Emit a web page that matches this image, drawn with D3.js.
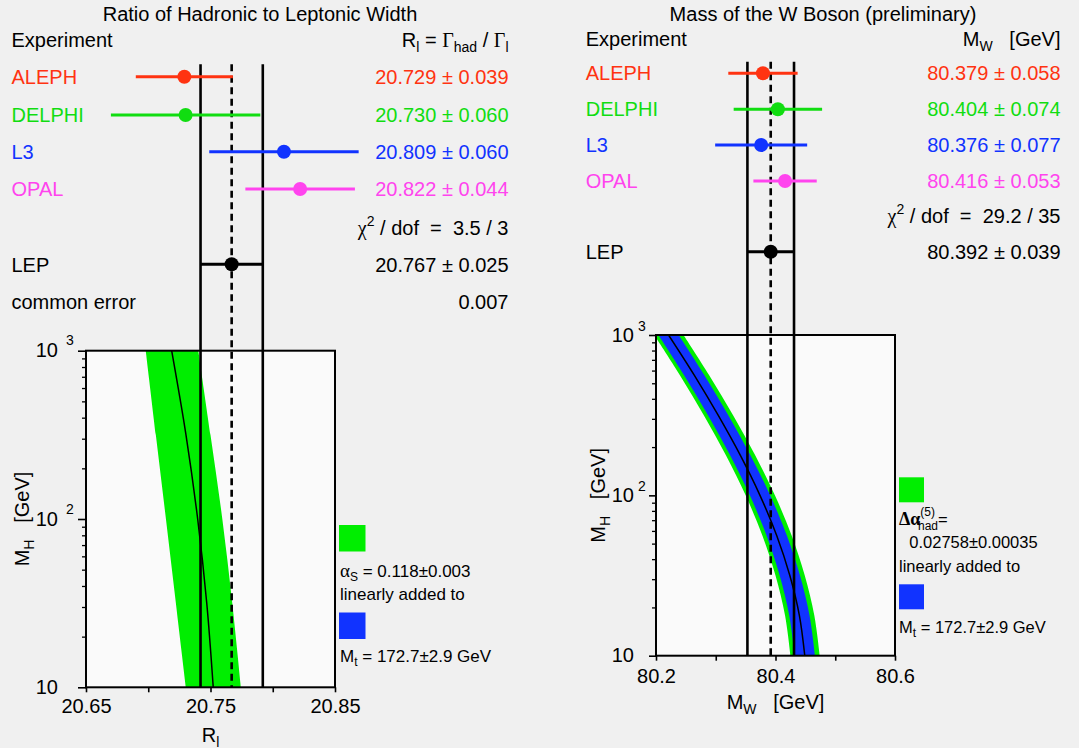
<!DOCTYPE html>
<html><head><meta charset="utf-8">
<script src="https://cdn.jsdelivr.net/npm/d3@7"></script>
<style>
html,body{margin:0;padding:0;background:#f0f0f0;}
svg{display:block;font-family:"Liberation Sans",Arial,Helvetica,sans-serif;}
text{white-space:pre;}
</style></head><body>
<svg id="chart" width="1079" height="748"></svg>
<script>
// ---------------- data ----------------
const experiments = ["ALEPH", "DELPHI", "L3", "OPAL"];
const expColors = ["#ff3311", "#11dd11", "#1133ff", "#ff44ee"];

const rlValues = [20.729, 20.730, 20.809, 20.822];
const rlErrors = [0.039, 0.060, 0.060, 0.044];
const rlLEP = [20.767];
const rlLEPError = [0.025];
const rlChi2 = ["3.5 / 3"];
const rlCommonError = ["0.007"];

const mwValues = [80.379, 80.404, 80.376, 80.416];
const mwErrors = [0.058, 0.074, 0.077, 0.053];
const mwLEP = [80.392];
const mwLEPError = [0.039];
const mwChi2 = ["29.2 / 35"];

const rlBandMH = [10, 31.6, 100, 316, 1000];
const rlBandLow = [20.7303, 20.7222, 20.7142, 20.7061, 20.6980];
const rlBandHigh = [20.7745, 20.7675, 20.7595, 20.7500, 20.7402];
const rlBandCentre = [20.7522, 20.7470, 20.7397, 20.7303, 20.7188];

const mwBandMH = [10, 17.8, 31.6, 56.2, 100, 178, 316, 562, 1000];
const mwBandCentre = [80.449, 80.440, 80.424, 80.402, 80.374, 80.341, 80.304, 80.264, 80.221];
const mwBlueLow = [80.432, 80.423, 80.407, 80.385, 80.357, 80.324, 80.287, 80.247, 80.204];
const mwBlueHigh = [80.466, 80.457, 80.441, 80.419, 80.391, 80.358, 80.321, 80.281, 80.238];
const mwGreenLow = [80.425, 80.416, 80.400, 80.378, 80.350, 80.317, 80.280, 80.240, 80.197];
const mwGreenHigh = [80.474, 80.465, 80.449, 80.427, 80.399, 80.366, 80.329, 80.289, 80.246];

const rlTicks = [20.65, 20.75, 20.85];
const rlMinorTicks = [20.70, 20.80];
const mwTicks = [80.2, 80.4, 80.6];
const mwMinorTicks = [80.3, 80.5];
const mhTicks = [10, 100, 1000];
const mhTickExp = ["", "2", "3"];
const mhMinorTicks = [20, 30, 40, 50, 60, 70, 80, 90, 200, 300, 400, 500, 600, 700, 800, 900];

// ---------------- drawing ----------------
const svg = d3.select("#chart");
svg.append("rect").attr("width", 1079).attr("height", 748).attr("fill", "#f0f0f0");

const BAND_GREEN = "#00ee00", BAND_BLUE = "#1133ff";

function panel(cfg) {
  const g = svg.append("g");
  const x = d3.scaleLinear().domain(cfg.xDomain).range([cfg.box.l, cfg.box.r]);
  const y = d3.scaleLog().domain([10, 1000]).range([cfg.box.b, cfg.box.t]);
  const fmt = d3.format(".3f");

  // title
  g.append("text").attr("x", cfg.titleX).attr("y", 21).attr("text-anchor", "middle")
    .attr("font-size", 20).text(cfg.title);
  // header
  g.append("text").attr("x", cfg.labelX).attr("y", cfg.headerY).attr("font-size", 20).text("Experiment");
  cfg.header(g.append("text").attr("x", cfg.valueX).attr("y", cfg.headerY)
    .attr("text-anchor", "end").attr("font-size", 20));

  // plot box background
  g.append("rect").attr("x", cfg.box.l).attr("y", cfg.box.t)
    .attr("width", cfg.box.r - cfg.box.l).attr("height", cfg.box.b - cfg.box.t).attr("fill", "#fafafa");

  const clipId = "clip" + cfg.id;
  svg.append("clipPath").attr("id", clipId).append("rect")
    .attr("x", cfg.box.l).attr("y", cfg.box.t)
    .attr("width", cfg.box.r - cfg.box.l).attr("height", cfg.box.b - cfg.box.t);
  const plot = g.append("g").attr("clip-path", `url(#${clipId})`);

  cfg.bands.forEach(b => {
    const area = d3.area().curve(d3.curveCatmullRom)
      .y((d, i) => y(b.mh[i])).x0((d, i) => x(b.lo[i])).x1((d, i) => x(b.hi[i]));
    plot.append("path").datum(b.mh).attr("d", area).attr("fill", b.color);
  });
  const line = d3.line().curve(d3.curveCatmullRom)
    .y((d, i) => y(cfg.centre.mh[i])).x((d, i) => x(cfg.centre.v[i]));
  plot.append("path").datum(cfg.centre.mh).attr("d", line)
    .attr("fill", "none").attr("stroke", "#000").attr("stroke-width", 1.5);

  // axes
  const xAxis = d3.axisBottom(x).tickValues(cfg.xTicks.concat(cfg.xMinor)).tickSize(5)
    .tickPadding(cfg.xPad).tickFormat(d => cfg.xTicks.includes(d) ? d3.format(cfg.xFmt)(d) : "");
  const gx = g.append("g").attr("transform", `translate(0,${cfg.box.b})`).call(xAxis);
  gx.select(".domain").remove();
  gx.selectAll("line").attr("stroke", "#000").attr("stroke-width", 1.6);
  gx.selectAll("text").attr("font-size", 20).attr("fill", "#000").attr("font-family", null);

  const yMajor = d3.axisLeft(y).tickValues(mhTicks).tickSize(cfg.yMajorLen).tickFormat("");
  const gy = g.append("g").attr("transform", `translate(${cfg.box.l},0)`).call(yMajor);
  gy.select(".domain").remove();
  gy.selectAll("line").attr("stroke", "#000").attr("stroke-width", 1.6);
  const yMinor = d3.axisLeft(y).tickValues(mhMinorTicks).tickSize(4).tickFormat("");
  const gy2 = g.append("g").attr("transform", `translate(${cfg.box.l},0)`).call(yMinor);
  gy2.select(".domain").remove();
  gy2.selectAll("line").attr("stroke", "#000").attr("stroke-width", 1.3);

  mhTicks.forEach((t, i) => {
    g.append("text").attr("x", cfg.yLabEnd).attr("y", y(t) + 6.5).attr("text-anchor", "end")
      .attr("font-size", 20).text("10");
    if (mhTickExp[i]) g.append("text").attr("x", cfg.yExpX).attr("y", y(t) + cfg.yExpDy)
      .attr("font-size", 14).text(mhTickExp[i]);
  });

  // axis titles
  const yl = g.append("text").attr("transform", `translate(${cfg.yTitleX},${(cfg.box.t + cfg.box.b) / 2}) rotate(-90)`)
    .attr("text-anchor", "middle").attr("font-size", 20);
  yl.append("tspan").text("M");
  yl.append("tspan").attr("font-size", 14).attr("dy", 5).text("H");
  yl.append("tspan").attr("dy", -5).text("   [GeV]");
  cfg.xTitle(g.append("text").attr("x", (cfg.box.l + cfg.box.r) / 2).attr("y", cfg.xTitleY)
    .attr("text-anchor", "middle").attr("font-size", 20));

  // box border
  g.append("rect").attr("x", cfg.box.l).attr("y", cfg.box.t)
    .attr("width", cfg.box.r - cfg.box.l).attr("height", cfg.box.b - cfg.box.t)
    .attr("fill", "none").attr("stroke", "#000").attr("stroke-width", 2);

  // LEP average lines
  const lo = cfg.lep - cfg.lepErr, hi = cfg.lep + cfg.lepErr;
  [lo, hi].forEach(v => g.append("line").attr("x1", x(v)).attr("x2", x(v))
    .attr("y1", cfg.lineTop).attr("y2", cfg.box.b).attr("stroke", "#000").attr("stroke-width", 2.6));
  g.append("line").attr("x1", x(cfg.lep)).attr("x2", x(cfg.lep))
    .attr("y1", cfg.lineTop).attr("y2", cfg.box.b).attr("stroke", "#000")
    .attr("stroke-width", 2.6).attr("stroke-dasharray", "7,4.5");

  // experiments
  experiments.forEach((name, i) => {
    const yy = cfg.rowY[i];
    const col = expColors[i];
    g.append("line").attr("x1", x(cfg.values[i] - cfg.errors[i])).attr("x2", x(cfg.values[i] + cfg.errors[i]))
      .attr("y1", yy).attr("y2", yy).attr("stroke", col).attr("stroke-width", 3);
    g.append("circle").attr("cx", x(cfg.values[i])).attr("cy", yy).attr("r", 7).attr("fill", col);
    g.append("text").attr("x", cfg.labelX).attr("y", yy + cfg.baseOff).attr("font-size", 20)
      .attr("fill", col).text(name);
    g.append("text").attr("x", cfg.valueX).attr("y", yy + cfg.baseOff).attr("text-anchor", "end")
      .attr("font-size", 20).attr("fill", col)
      .text(fmt(cfg.values[i]) + " \u00b1 " + fmt(cfg.errors[i]));
  });

  // chi2
  const c = g.append("text").attr("x", cfg.valueX).attr("y", cfg.chiY).attr("text-anchor", "end").attr("font-size", 20);
  c.append("tspan").attr("font-family", "Liberation Serif, serif").text("\u03c7");
  c.append("tspan").attr("font-size", 14).attr("dy", -9).text("2");
  c.append("tspan").attr("dy", 9).text(" / dof  =  " + cfg.chi2);

  // LEP
  g.append("line").attr("x1", x(lo)).attr("x2", x(hi)).attr("y1", cfg.lepY).attr("y2", cfg.lepY)
    .attr("stroke", "#000").attr("stroke-width", 3);
  g.append("circle").attr("cx", x(cfg.lep)).attr("cy", cfg.lepY).attr("r", 7).attr("fill", "#000");
  g.append("text").attr("x", cfg.labelX).attr("y", cfg.lepY + cfg.baseOff).attr("font-size", 20).text("LEP");
  g.append("text").attr("x", cfg.valueX).attr("y", cfg.lepY + cfg.baseOff).attr("text-anchor", "end")
    .attr("font-size", 20).text(fmt(cfg.lep) + " \u00b1 " + fmt(cfg.lepErr));

  // legend
  const L = cfg.legend;
  g.append("rect").attr("x", L.x).attr("y", L.greenY).attr("width", L.size).attr("height", L.size).attr("fill", BAND_GREEN);
  g.append("rect").attr("x", L.x).attr("y", L.blueY).attr("width", L.size).attr("height", L.size).attr("fill", BAND_BLUE);
  L.draw(g, L);
  return g;
}

// ---------- left panel ----------
const left = panel({
  id: "L", title: "Ratio of Hadronic to Leptonic Width", titleX: 260,
  labelX: 11.5, valueX: 508.5, headerY: 47.3,
  header: t => {
    t.append("tspan").text("R");
    t.append("tspan").attr("font-size", 14).attr("dy", 5).text("l");
    t.append("tspan").attr("dy", -5).text(" = ");
    t.append("tspan").attr("font-family", "Liberation Serif, serif").text("\u0393");
    t.append("tspan").attr("font-size", 14).attr("dy", 5).text("had");
    t.append("tspan").attr("dy", -5).text(" / ");
    t.append("tspan").attr("font-family", "Liberation Serif, serif").text("\u0393");
    t.append("tspan").attr("font-size", 14).attr("dy", 5).text("l");
  },
  box: {l: 86, r: 335, t: 350.7, b: 687.3},
  xDomain: [20.65, 20.85], xTicks: rlTicks, xMinor: rlMinorTicks, xFmt: ".2f", xPad: 7,
  yMajorLen: 8, yLabEnd: 58, yExpX: 66, yExpDy: -5.5, yTitleX: 29,
  xTitleY: 741.5,
  xTitle: t => {
    t.append("tspan").text("R");
    t.append("tspan").attr("font-size", 14).attr("dy", 5).text("l");
  },
  bands: [{mh: rlBandMH, lo: rlBandLow, hi: rlBandHigh, color: BAND_GREEN}],
  centre: {mh: rlBandMH, v: rlBandCentre},
  lep: rlLEP[0], lepErr: rlLEPError[0], lineTop: 64.3,
  values: rlValues, errors: rlErrors,
  rowY: [76.7, 115, 151.7, 189], baseOff: 7.3, chiY: 234.5, chi2: rlChi2[0], lepY: 264.3,
  legend: {
    x: 339, size: 26.5, greenY: 525, blueY: 612.5,
    draw: (g, L) => {
      const a = g.append("text").attr("x", 340).attr("y", 576.5).attr("font-size", 17);
      a.append("tspan").attr("font-family", "Liberation Serif, serif").attr("font-size", 19).text("\u03b1");
      a.append("tspan").attr("font-size", 12).attr("dy", 4).text("S");
      a.append("tspan").attr("dy", -4).text(" = 0.118\u00b10.003");
      g.append("text").attr("x", 340).attr("y", 600).attr("font-size", 17).text("linearly added to");
      const m = g.append("text").attr("x", 340).attr("y", 661.5).attr("font-size", 17);
      m.append("tspan").text("M");
      m.append("tspan").attr("font-size", 12).attr("dy", 4).text("t");
      m.append("tspan").attr("dy", -4).text(" = 172.7\u00b12.9 GeV");
    }
  }
});
left.append("text").attr("x", 11.5).attr("y", 309.3).attr("font-size", 20).text("common error");
left.append("text").attr("x", 508.5).attr("y", 309.3).attr("text-anchor", "end").attr("font-size", 20).text(rlCommonError[0]);

// ---------- right panel ----------
panel({
  id: "R", title: "Mass of the W Boson (preliminary)", titleX: 823,
  labelX: 585.7, valueX: 1060.5, headerY: 45.7,
  header: t => {
    t.append("tspan").text("M");
    t.append("tspan").attr("font-size", 14).attr("dy", 5).text("W");
    t.append("tspan").attr("dy", -5).text("   [GeV]");
  },
  box: {l: 656, r: 895, t: 335, b: 655.7},
  xDomain: [80.2, 80.6], xTicks: mwTicks, xMinor: mwMinorTicks, xFmt: ".1f", xPad: 8,
  yMajorLen: 7, yLabEnd: 634, yExpX: 638, yExpDy: -4, yTitleX: 604.5,
  xTitleY: 709.3,
  xTitle: t => {
    t.append("tspan").text("M");
    t.append("tspan").attr("font-size", 14).attr("dy", 5).text("W");
    t.append("tspan").attr("dy", -5).text("   [GeV]");
  },
  bands: [
    {mh: mwBandMH, lo: mwGreenLow, hi: mwGreenHigh, color: BAND_GREEN},
    {mh: mwBandMH, lo: mwBlueLow, hi: mwBlueHigh, color: BAND_BLUE}
  ],
  centre: {mh: mwBandMH, v: mwBandCentre},
  lep: mwLEP[0], lepErr: mwLEPError[0], lineTop: 61.7,
  values: mwValues, errors: mwErrors,
  rowY: [73.3, 109.3, 145, 181], baseOff: 7, chiY: 222.7, chi2: mwChi2[0], lepY: 251.7,
  legend: {
    x: 899, size: 25, greenY: 477.3, blueY: 584.3,
    draw: (g, L) => {
      const a = g.append("text").attr("x", 899).attr("y", 525).attr("font-size", 16.5);
      a.append("tspan").attr("font-family", "Liberation Serif, serif").attr("font-weight", "bold")
        .attr("font-size", 18).text("\u0394\u03b1");
      a.append("tspan").attr("font-size", 12).attr("dy", -9).text("(5)");
      a.append("tspan").attr("font-size", 12).attr("dx", -17).attr("dy", 14).text("had");
      a.append("tspan").attr("dy", -5).text("=");
      g.append("text").attr("x", 909.3).attr("y", 548.3).attr("font-size", 16.5).text("0.02758\u00b10.00035");
      g.append("text").attr("x", 899).attr("y", 571.7).attr("font-size", 16.5).text("linearly added to");
      const m = g.append("text").attr("x", 899).attr("y", 633.3).attr("font-size", 16.5);
      m.append("tspan").text("M");
      m.append("tspan").attr("font-size", 12).attr("dy", 4).text("t");
      m.append("tspan").attr("dy", -4).text(" = 172.7\u00b12.9 GeV");
    }
  }
});
</script>
</body></html>
